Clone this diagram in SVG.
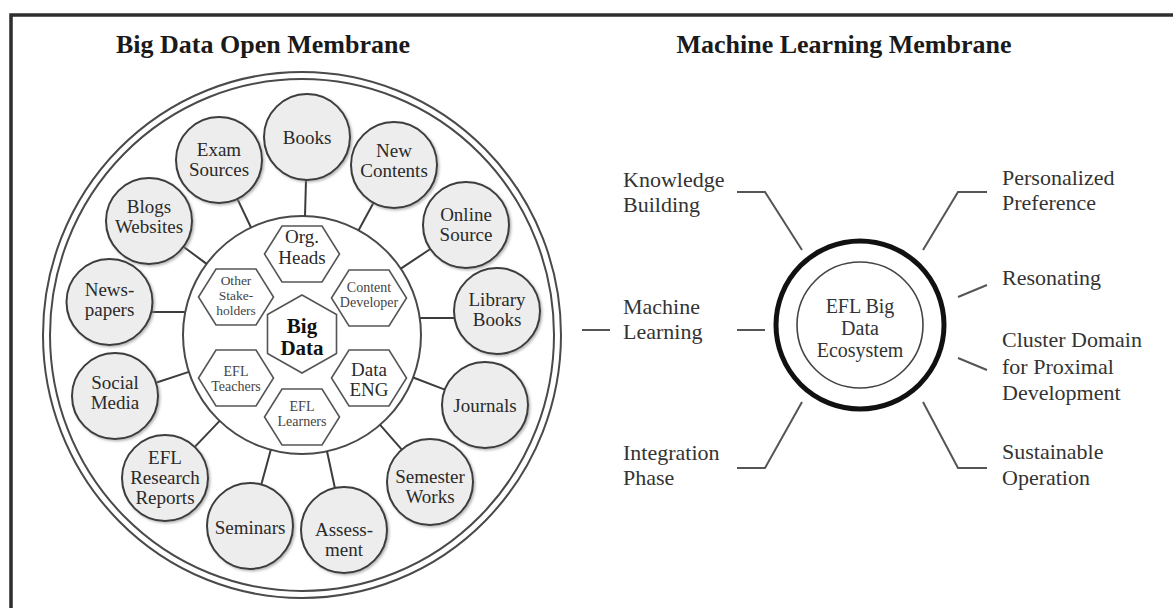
<svg xmlns="http://www.w3.org/2000/svg" xmlns:xlink="http://www.w3.org/1999/xlink" width="1173" height="608" viewBox="0 0 1173 608">
  <style>
    .t { font-family: "Liberation Serif", "Times New Roman", serif; fill: #2a2a2a; }
    .title { font-size: 26px; font-weight: bold; fill: #1a1a1a; }
    .sat { fill: #ededed; stroke: #3c3c3c; stroke-width: 2; }
    .satt { font-size: 19px; text-anchor: middle; }
    .hex { fill: #ffffff; stroke: #555; stroke-width: 1.6; }
    .hext { text-anchor: middle; fill: #444; }
    .ring { fill: none; stroke: #4a4a4a; stroke-width: 2; }
    .conn { stroke: #3c3c3c; stroke-width: 2; fill: none; }
    .lab { font-size: 22px; fill: #333; }
    .rl { stroke: #555; stroke-width: 2; fill: none; }
  </style>
  <defs>
    <filter id="sh" x="-20%" y="-20%" width="150%" height="150%">
      <feDropShadow dx="1.5" dy="1.5" stdDeviation="1.2" flood-color="#888" flood-opacity="0.6"/>
    </filter>
    <path id="hexs" d="M-37.5,0 L-20,-28 L20,-28 L37.5,0 L20,28 L-20,28 Z"/>
  </defs>
  <rect width="1173" height="608" fill="#ffffff"/>
  <!-- frame -->
  <path d="M11,608 L11,15 L1173,15" fill="none" stroke="#2e2e2e" stroke-width="3.5"/>

  <!-- titles -->
  <text class="t title" x="263" y="53" text-anchor="middle">Big Data Open Membrane</text>
  <text class="t title" x="844" y="53" text-anchor="middle">Machine Learning Membrane</text>

  <!-- membranes -->
  <g id="membrane-outer">
    <ellipse class="ring" cx="302" cy="335" rx="259" ry="263"/>
    <ellipse class="ring" cx="302" cy="335" rx="252" ry="256"/>
  </g>
  <g id="membrane-inner">
    <circle class="ring" cx="302" cy="335" r="119" stroke="#3c3c3c"/>
  </g>

  <!-- connectors -->
  <g id="connectors">
    <line class="conn" x1="305" y1="216" x2="306" y2="180"/>
    <line class="conn" x1="251" y1="227.5" x2="237.4" y2="198.9"/>
    <line class="conn" x1="358.6" y1="230.3" x2="373.5" y2="202.8"/>
    <line class="conn" x1="206.6" y1="263.9" x2="183.5" y2="246.7"/>
    <line class="conn" x1="400.8" y1="268.7" x2="430.3" y2="249"/>
    <line class="conn" x1="184.7" y1="312" x2="151.9" y2="312"/>
    <line class="conn" x1="420.1" y1="318" x2="454.3" y2="318"/>
    <line class="conn" x1="188.9" y1="371.9" x2="155.9" y2="382.7"/>
    <line class="conn" x1="413.2" y1="377.5" x2="444.8" y2="389.6"/>
    <line class="conn" x1="219.7" y1="420.9" x2="194.8" y2="446.9"/>
    <line class="conn" x1="380.1" y1="424.8" x2="401.8" y2="449.6"/>
    <line class="conn" x1="270.8" y1="449.8" x2="261.3" y2="484.5"/>
    <line class="conn" x1="327" y1="451.3" x2="334.9" y2="488"/>
    <!-- right side -->
    <polyline class="rl" points="737,192 765,192 802,250"/>
    <line class="rl" x1="582" y1="330" x2="610" y2="330"/>
    <line class="rl" x1="737" y1="330" x2="765" y2="330"/>
    <polyline class="rl" points="737,468 765,468 802,402"/>
    <polyline class="rl" points="987,192 958,192 923,250"/>
    <line class="rl" x1="958" y1="297" x2="987" y2="285"/>
    <line class="rl" x1="958" y1="358" x2="987" y2="370"/>
    <polyline class="rl" points="923,402 958,468 987,468"/>
  </g>

  <!-- satellites -->
  <g id="books"><circle class="sat" filter="url(#sh)" cx="307" cy="137" r="43"/><text class="t satt" x="307" y="144">Books</text></g>
  <g id="exam-sources"><circle class="sat" filter="url(#sh)" cx="219" cy="160" r="43"/><text class="t satt" x="219" y="156">Exam</text><text class="t satt" x="219" y="176">Sources</text></g>
  <g id="new-contents"><circle class="sat" filter="url(#sh)" cx="394" cy="165" r="43"/><text class="t satt" x="394" y="157">New</text><text class="t satt" x="394" y="177">Contents</text></g>
  <g id="blogs-websites"><circle class="sat" filter="url(#sh)" cx="149" cy="221" r="43"/><text class="t satt" x="149" y="213">Blogs</text><text class="t satt" x="149" y="233">Websites</text></g>
  <g id="online-source"><circle class="sat" filter="url(#sh)" cx="466" cy="225" r="43"/><text class="t satt" x="466" y="221">Online</text><text class="t satt" x="466" y="241">Source</text></g>
  <g id="newspapers"><circle class="sat" filter="url(#sh)" cx="109.5" cy="302" r="43"/><text class="t satt" x="109.5" y="296">News-</text><text class="t satt" x="109.5" y="316">papers</text></g>
  <g id="library-books"><circle class="sat" filter="url(#sh)" cx="497" cy="311" r="43"/><text class="t satt" x="497" y="306">Library</text><text class="t satt" x="497" y="326">Books</text></g>
  <g id="social-media"><circle class="sat" filter="url(#sh)" cx="115" cy="396" r="43"/><text class="t satt" x="115" y="389">Social</text><text class="t satt" x="115" y="409">Media</text></g>
  <g id="journals"><circle class="sat" filter="url(#sh)" cx="485" cy="405" r="43"/><text class="t satt" x="485" y="412">Journals</text></g>
  <g id="efl-research-reports"><circle class="sat" filter="url(#sh)" cx="165" cy="478" r="43"/><text class="t satt" x="165" y="464">EFL</text><text class="t satt" x="165" y="484">Research</text><text class="t satt" x="165" y="504">Reports</text></g>
  <g id="semester-works"><circle class="sat" filter="url(#sh)" cx="430" cy="482" r="43"/><text class="t satt" x="430" y="483">Semester</text><text class="t satt" x="430" y="503">Works</text></g>
  <g id="seminars"><circle class="sat" filter="url(#sh)" cx="250" cy="526" r="43"/><text class="t satt" x="250" y="534">Seminars</text></g>
  <g id="assessment"><circle class="sat" filter="url(#sh)" cx="344" cy="530" r="43"/><text class="t satt" x="344" y="536">Assess-</text><text class="t satt" x="344" y="556">ment</text></g>

  <!-- hexagons -->
  <g id="org-heads"><use xlink:href="#hexs" href="#hexs" class="hex" x="302" y="254"/><text class="t hext" x="302" y="243" font-size="19" style="fill:#2a2a2a">Org.</text><text class="t hext" x="302" y="264" font-size="19" style="fill:#2a2a2a">Heads</text></g>
  <g id="other-stakeholders"><use xlink:href="#hexs" href="#hexs" class="hex" x="236" y="297"/><text class="t hext" x="236" y="285" font-size="13.5">Other</text><text class="t hext" x="236" y="300" font-size="13.5">Stake-</text><text class="t hext" x="236" y="315" font-size="13.5">holders</text></g>
  <g id="content-developer"><use xlink:href="#hexs" href="#hexs" class="hex" x="369" y="298"/><text class="t hext" x="369" y="292" font-size="14">Content</text><text class="t hext" x="369" y="307" font-size="14">Developer</text></g>
  <g id="efl-teachers"><use xlink:href="#hexs" href="#hexs" class="hex" x="236" y="378"/><text class="t hext" x="236" y="376" font-size="14">EFL</text><text class="t hext" x="236" y="391" font-size="14">Teachers</text></g>
  <g id="efl-learners"><use xlink:href="#hexs" href="#hexs" class="hex" x="302" y="417"/><text class="t hext" x="302" y="411" font-size="14">EFL</text><text class="t hext" x="302" y="426" font-size="14">Learners</text></g>
  <g id="data-eng"><use xlink:href="#hexs" href="#hexs" class="hex" x="369" y="378"/><text class="t hext" x="369" y="376" font-size="19" style="fill:#2a2a2a">Data</text><text class="t hext" x="369" y="396" font-size="19" style="fill:#2a2a2a">ENG</text></g>
  <g id="big-data"><path class="hex" stroke-width="2" d="M302,295 L336.5,314.5 L336.5,353.5 L302,373 L267.5,353.5 L267.5,314.5 Z"/><text class="t" x="302" y="333" font-size="21" font-weight="bold" text-anchor="middle" style="fill:#111">Big</text><text class="t" x="302" y="355" font-size="21" font-weight="bold" text-anchor="middle" style="fill:#111">Data</text></g>

  <!-- right side -->
  <g id="ecosystem">
    <circle cx="860" cy="325" r="84" fill="#fff" stroke="#111" stroke-width="5"/>
    <circle cx="860" cy="325" r="63" fill="none" stroke="#444" stroke-width="1.6"/>
    <text class="t" x="860" y="313" font-size="20" text-anchor="middle" style="fill:#333">EFL Big</text>
    <text class="t" x="860" y="335" font-size="20" text-anchor="middle" style="fill:#333">Data</text>
    <text class="t" x="860" y="357" font-size="20" text-anchor="middle" style="fill:#333">Ecosystem</text>
  </g>
  <g id="knowledge-building"><text class="t lab" x="623" y="187">Knowledge</text><text class="t lab" x="623" y="212">Building</text></g>
  <g id="machine-learning"><text class="t lab" x="623" y="314">Machine</text><text class="t lab" x="623" y="339">Learning</text></g>
  <g id="integration-phase"><text class="t lab" x="623" y="460">Integration</text><text class="t lab" x="623" y="485">Phase</text></g>
  <g id="personalized-preference"><text class="t lab" x="1002" y="185">Personalized</text><text class="t lab" x="1002" y="210">Preference</text></g>
  <g id="resonating"><text class="t lab" x="1002" y="285">Resonating</text></g>
  <g id="cluster-domain"><text class="t lab" x="1002" y="347">Cluster Domain</text><text class="t lab" x="1002" y="374">for Proximal</text><text class="t lab" x="1002" y="400">Development</text></g>
  <g id="sustainable-operation"><text class="t lab" x="1002" y="459">Sustainable</text><text class="t lab" x="1002" y="485">Operation</text></g>
</svg>
